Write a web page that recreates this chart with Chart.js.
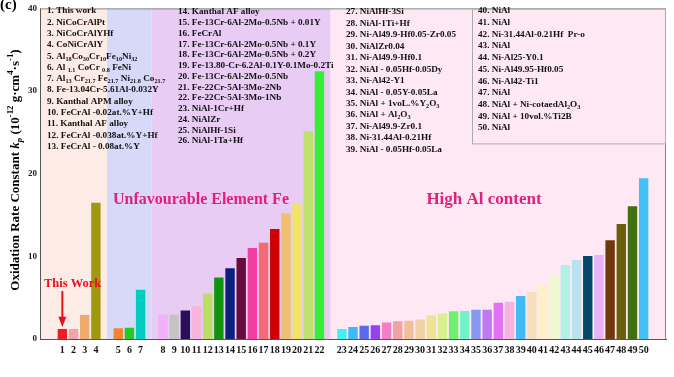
<!DOCTYPE html>
<html>
<head>
<meta charset="utf-8">
<script src="https://cdn.jsdelivr.net/npm/chart.js@4"></script>
<style>
html, body { margin: 0; padding: 0; background: #fff; }
</style>
</head>
<body>
<canvas id="kp_bars" width="674" height="377"></canvas>
<script>
// sample numbers, split in the four groups of the figure
const sampleIds = [
    '1', '2', '3', '4',
    '5', '6', '7',
    '8', '9', '10', '11', '12', '13', '14', '15', '16', '17', '18', '19', '20', '21', '22',
    '23', '24', '25', '26', '27', '28', '29', '30', '31', '32', '33', '34', '35', '36', '37', '38',
    '39', '40', '41', '42', '43', '44', '45', '46', '47', '48', '49', '50'
];
const groupSizes = [4, 3, 15, 28];

// oxidation rate constant kp (10^-12 g^2 cm^-4 s^-1)
const kpValues = [
    1.2, 1.2, 2.9, 16.5,
    1.3, 1.35, 5.95,
    2.95, 2.95, 3.45, 3.95, 5.5, 7.45, 8.55, 9.8, 11.0, 11.65, 13.3, 15.2, 16.4, 25.1, 32.4,
    1.2, 1.45, 1.6, 1.65, 2.0, 2.15, 2.2, 2.35, 2.85, 3.1, 3.35, 3.4, 3.55, 3.55, 4.4, 4.5,
    5.2, 5.7, 6.6, 7.6, 8.95, 9.55, 10.05, 10.15, 11.95, 13.9, 16.05, 19.45
];

const barColors = [
    '#ee1c25', '#f4a2aa', '#f0aa6c', '#a0980e',
    '#f08434', '#22cc22', '#00ccc2',
    '#f0b2f6', '#c4c4c4', '#2a0e5a', '#f8b4da', '#badf62', '#109410', '#0e1e7e', '#660c3c',
    '#f23ea0', '#f26a72', '#cc0202', '#f0c070', '#efe468', '#bce26c', '#36ee36',
    '#3ef2f2', '#3eb8f6', '#5a6af0', '#9442ee', '#f27ec8', '#f2a2a2', '#f0c09a', '#f2d2a4',
    '#f0e294', '#d8f092', '#6ef26e', '#72f2ca', '#8898f0', '#c07af0', '#e272f2', '#f8b2e0',
    '#42baf8', '#f8dcbe', '#fff0c8', '#f0f8d0', '#b0f2e6', '#b8e2f0', '#02486a', '#e8b2f8',
    '#703808', '#6a600a', '#427010', '#44c0f8'
];

const yTicks = [0, 10, 20, 30, 40];
const bandColors = ['#fdece6', '#d6daf8', '#e8ccf4', '#fde8f4'];

// legend lists, _{..} = subscript
const legendCol1 = [
    '1. This work', '2. NiCoCrAlPt', '3. NiCoCrAlYHf', '4. CoNiCrAlY',
    '5. Al_{18}Co_{30}Cr_{10}Fe_{10}Ni_{32}', '6. Al _{1.1} CoCr _{0.8} FeNi',
    '7. Al_{13} Cr_{21.7} Fe_{21.7} Ni_{21.8} Co_{21.7}', '8. Fe-13.04Cr-5.61Al-0.032Y',
    '9. Kanthal APM alloy', '10. FeCrAl -0.02at.%Y+Hf', '11. Kanthal AF alloy',
    '12. FeCrAl -0.038at.%Y+Hf', '13. FeCrAl - 0.08at.%Y'
];
const legendCol2 = [
    '14. Kanthal AF alloy', '15. Fe-13Cr-6Al-2Mo-0.5Nb + 0.01Y', '16. FeCrAl',
    '17. Fe-13Cr-6Al-2Mo-0.5Nb + 0.1Y', '18. Fe-13Cr-6Al-2Mo-0.5Nb + 0.2Y',
    '19. Fe-13.80-Cr-6.2Al-0.1Y-0.1Mo-0.2Ti', '20. Fe-13Cr-6Al-2Mo-0.5Nb',
    '21. Fe-22Cr-5Al-3Mo-2Nb', '22. Fe-22Cr-5Al-3Mo-1Nb', '23. NiAl-1Cr+Hf',
    '24. NiAlZr', '25. NiAlHf-1Si', '26. NiAl-1Ta+Hf'
];
const legendCol3 = [
    '27. NiAlHf-3Si', '28. NiAl-1Ti+Hf', '29. Ni-Al49.9-Hf0.05-Zr0.05', '30. NiAlZr0.04',
    '31. Ni-Al49.9-Hf0.1', '32. NiAl - 0.05Hf-0.05Dy', '33. Ni-Al42-Y1',
    '34. NiAl - 0.05Y-0.05La', '35. NiAl + 1voL.%Y_{2}O_{3}', '36. NiAl + Al_{2}O_{3}',
    '37. Ni-Al49.9-Zr0.1', '38. Ni-31.44Al-0.21Hf', '39. NiAl - 0.05Hf-0.05La'
];
const legendCol4 = [
    '40. NiAl', '41. NiAl', '42. Ni-31.44Al-0.21Hf  Pr-o', '43. NiAl', '44. Ni-Al25-Y0.1',
    '45. Ni-Al49.95-Hf0.05', '46. Ni-Al42-Ti1', '47. NiAl', '48. NiAl + Ni-cotaedAl_{2}O_{3}',
    '49. NiAl + 10vol.%Ti2B', '50. NiAl'
];

// build the padded category list: two empty slots at each end, one between groups
const labels = ['', ''];
const values = [null, null];
const colors = ['#fff', '#fff'];
const gapIndex = [];
let k = 0;
groupSizes.forEach((n, g) => {
    if (g > 0) {
        gapIndex.push(labels.length);
        labels.push(''); values.push(null); colors.push('#fff');
    }
    for (let i = 0; i < n; i++, k++) {
        labels.push(sampleIds[k]);
        values.push(kpValues[k]);
        colors.push(barColors[k]);
    }
});
labels.push('', ''); values.push(null, null); colors.push('#fff', '#fff');

const SERIF = '"Liberation Serif", "DejaVu Serif", serif';
const PINK = '#e2207c';

// draw text with _{sub} and ^{sup} parts
function drawRich(ctx, str, x, y, size, style) {
    const parts = [];
    const re = /([_^])\{([^}]*)\}/g;
    let last = 0, m;
    while ((m = re.exec(str)) !== null) {
        if (m.index > last) parts.push({t: str.slice(last, m.index), mode: ''});
        parts.push({t: m[2], mode: m[1]});
        last = re.lastIndex;
    }
    if (last < str.length) parts.push({t: str.slice(last), mode: ''});
    let cx = x;
    parts.forEach(p => {
        const s = p.mode ? size * 0.68 : size;
        ctx.font = (style || 'bold') + ' ' + s + 'px ' + SERIF;
        const dy = p.mode === '_' ? size * 0.3 : (p.mode === '^' ? -size * 0.38 : 0);
        ctx.fillText(p.t, cx, y + dy);
        cx += ctx.measureText(p.t).width;
    });
    return cx - x;
}

function measureRich(ctx, segs, size) {
    let w = 0;
    segs.forEach(p => {
        const s = p.mode ? size * 0.68 : size;
        ctx.font = (p.italic ? 'italic bold ' : 'bold ') + s + 'px ' + SERIF;
        w += ctx.measureText(p.t).width;
    });
    return w;
}

const decor = {
    id: 'decor',
    beforeDraw(chart) {
        const {ctx, chartArea: a, scales: {x}} = chart;
        const edges = [a.left].concat(gapIndex.map(i => x.getPixelForValue(i)), [a.right]);
        ctx.save();
        bandColors.forEach((c, i) => {
            ctx.fillStyle = c;
            ctx.fillRect(edges[i], a.top, edges[i + 1] - edges[i], a.bottom - a.top);
        });
        ctx.restore();
    },
    afterDraw(chart) {
        const {ctx, chartArea: a, scales: {x, y}} = chart;
        ctx.save();

        // frame top and right
        ctx.strokeStyle = '#888';
        ctx.lineWidth = 1;
        ctx.beginPath();
        ctx.moveTo(a.left, a.top + 0.5);
        ctx.lineTo(a.right - 0.5, a.top + 0.5);
        ctx.lineTo(a.right - 0.5, a.bottom);
        ctx.stroke();

        // legend box of last column
        ctx.strokeStyle = '#aaa';
        ctx.strokeRect(472.5, a.top + 0.5, a.right - 473, 135);

        // legend columns
        ctx.fillStyle = '#111';
        ctx.textBaseline = 'middle';
        ctx.textAlign = 'left';
        const cols = [
            {lines: legendCol1, x: 47, y: 11, step: 11.3},
            {lines: legendCol2, x: 178, y: 12, step: 10.75},
            {lines: legendCol3, x: 346, y: 12, step: 11.45},
            {lines: legendCol4, x: 478, y: 11, step: 11.7}
        ];
        cols.forEach(c => {
            c.lines.forEach((t, i) => drawRich(ctx, t, c.x, c.y + i * c.step, 9.2));
        });

        // region captions
        ctx.fillStyle = PINK;
        ctx.textAlign = 'center';
        ctx.font = 'bold 16px ' + SERIF;
        ctx.fillText('Unfavourable Element Fe', 201, y.getPixelForValue(16.8));
        ctx.font = 'bold 17px ' + SERIF;
        ctx.fillText('High Al content', 484, y.getPixelForValue(16.9));

        // "This Work" marker
        const bx = x.getPixelForValue(2);
        ctx.fillStyle = '#e8101c';
        ctx.textAlign = 'left';
        ctx.font = 'bold 12.5px ' + SERIF;
        ctx.fillText('This Work', a.left + 4, y.getPixelForValue(6.7));
        ctx.strokeStyle = '#e8101c';
        ctx.lineWidth = 2;
        ctx.beginPath();
        ctx.moveTo(bx, y.getPixelForValue(5.8));
        ctx.lineTo(bx, y.getPixelForValue(2.6));
        ctx.stroke();
        ctx.beginPath();
        ctx.moveTo(bx - 4, y.getPixelForValue(2.7));
        ctx.lineTo(bx + 4, y.getPixelForValue(2.7));
        ctx.lineTo(bx, y.getPixelForValue(1.45));
        ctx.closePath();
        ctx.fill();

        // panel letter
        ctx.fillStyle = '#000';
        ctx.font = 'bold 15px ' + SERIF;
        ctx.textBaseline = 'alphabetic';
        ctx.fillText('(c)', 0, 9);

        // y axis title
        const segs = [
            {t: 'Oxidation Rate Constant ', mode: ''},
            {t: 'k', mode: '', italic: true},
            {t: 'p', mode: '_', italic: true},
            {t: ' (10', mode: ''},
            {t: '-12', mode: '^'},
            {t: ' g\u00b7cm', mode: ''},
            {t: '4', mode: '^'},
            {t: '\u00b7s', mode: ''},
            {t: '-1', mode: '^'},
            {t: ')', mode: ''}
        ];
        const size = 13;
        const w = measureRich(ctx, segs, size);
        ctx.translate(16, 170);
        ctx.rotate(-Math.PI / 2);
        ctx.textBaseline = 'middle';
        let cx = -w / 2;
        segs.forEach(p => {
            const s = p.mode ? size * 0.68 : size;
            ctx.font = (p.italic ? 'italic bold ' : 'bold ') + s + 'px ' + SERIF;
            const dy = p.mode === '_' ? size * 0.3 : (p.mode === '^' ? -size * 0.38 : 0);
            ctx.fillText(p.t, cx, dy);
            cx += ctx.measureText(p.t).width;
        });
        ctx.restore();
    }
};

new Chart(document.getElementById('kp_bars'), {
    type: 'bar',
    data: {
        labels: labels,
        datasets: [{
            data: values,
            backgroundColor: colors,
            borderWidth: 0,
            barPercentage: 0.84,
            categoryPercentage: 1
        }]
    },
    options: {
        responsive: false,
        animation: false,
        layout: {padding: {top: 3, right: 8, bottom: 0, left: 0}},
        plugins: {
            legend: {display: false},
            tooltip: {enabled: false}
        },
        scales: {
            x: {
                offset: false,
                grid: {display: false, drawTicks: false},
                border: {color: '#555', width: 1},
                ticks: {
                    autoSkip: false,
                    maxRotation: 0,
                    padding: 5,
                    color: '#111',
                    font: {family: SERIF, size: 10, weight: 'bold'}
                },
                afterFit: s => { s.height = 38; }
            },
            y: {
                min: 0,
                max: 40,
                afterBuildTicks: s => { s.ticks = yTicks.map(v => ({value: v})); },
                grid: {display: false, drawTicks: false},
                border: {color: '#555', width: 1},
                ticks: {
                    padding: 3,
                    color: '#222',
                    font: {family: SERIF, size: 9, weight: 'bold'}
                },
                afterFit: s => { s.width = 40; }
            }
        }
    },
    plugins: [decor]
});
</script>
</body>
</html>
